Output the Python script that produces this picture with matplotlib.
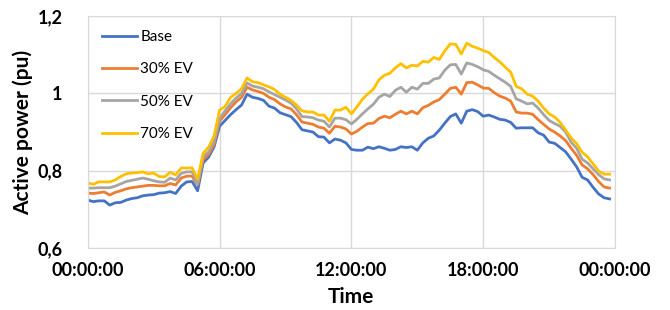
import numpy as np
import matplotlib.pyplot as plt

# 15-minute samples over one day (96 points)
base = [0.724, 0.720, 0.722, 0.722, 0.711, 0.717, 0.718, 0.724, 0.728, 0.730,
        0.735, 0.737, 0.738, 0.742, 0.743, 0.746, 0.741, 0.760, 0.771, 0.772,
        0.748, 0.820, 0.835, 0.862, 0.915, 0.930, 0.945, 0.958, 0.970, 0.998,
        0.990, 0.987, 0.982, 0.967, 0.962, 0.950, 0.945, 0.940, 0.925, 0.906,
        0.903, 0.900, 0.888, 0.887, 0.872, 0.882, 0.879, 0.872, 0.855, 0.853,
        0.853, 0.861, 0.857, 0.862, 0.858, 0.853, 0.855, 0.862, 0.860, 0.862,
        0.853, 0.872, 0.884, 0.890, 0.905, 0.923, 0.940, 0.947, 0.923, 0.954,
        0.958, 0.953, 0.941, 0.944, 0.939, 0.933, 0.931, 0.925, 0.910, 0.911,
        0.911, 0.911, 0.898, 0.892, 0.874, 0.871, 0.860, 0.849, 0.830, 0.810,
        0.783, 0.776, 0.757, 0.740, 0.730, 0.727]

ev30 = [0.742, 0.741, 0.743, 0.745, 0.737, 0.744, 0.748, 0.753, 0.756, 0.758,
        0.760, 0.762, 0.762, 0.761, 0.761, 0.767, 0.763, 0.781, 0.786, 0.786,
        0.763, 0.828, 0.842, 0.868, 0.928, 0.945, 0.963, 0.978, 0.990, 1.016,
        1.009, 1.005, 1.000, 0.990, 0.984, 0.973, 0.965, 0.960, 0.945, 0.926,
        0.923, 0.920, 0.913, 0.910, 0.897, 0.915, 0.913, 0.908, 0.895, 0.902,
        0.913, 0.922, 0.923, 0.935, 0.941, 0.937, 0.946, 0.954, 0.947, 0.954,
        0.947, 0.963, 0.969, 0.978, 0.984, 0.998, 1.013, 1.016, 0.998, 1.028,
        1.029, 1.022, 1.014, 1.013, 1.002, 0.993, 0.988, 0.980, 0.952, 0.949,
        0.949, 0.946, 0.932, 0.920, 0.908, 0.900, 0.890, 0.878, 0.858, 0.840,
        0.815, 0.805, 0.790, 0.772, 0.758, 0.755]

ev50 = [0.755, 0.755, 0.756, 0.756, 0.756, 0.760, 0.766, 0.772, 0.775, 0.778,
        0.781, 0.778, 0.774, 0.771, 0.770, 0.781, 0.776, 0.793, 0.797, 0.797,
        0.765, 0.836, 0.849, 0.875, 0.935, 0.955, 0.973, 0.988, 1.000, 1.027,
        1.019, 1.016, 1.012, 1.004, 0.997, 0.990, 0.983, 0.975, 0.960, 0.940,
        0.939, 0.937, 0.931, 0.928, 0.913, 0.936, 0.936, 0.932, 0.921, 0.933,
        0.947, 0.960, 0.972, 0.990, 0.998, 0.992, 1.008, 1.016, 1.003, 1.016,
        1.011, 1.026, 1.026, 1.037, 1.040, 1.060, 1.074, 1.075, 1.050, 1.079,
        1.075, 1.069, 1.061, 1.057, 1.047, 1.038, 1.029, 1.018, 0.986, 0.980,
        0.973, 0.975, 0.962, 0.945, 0.930, 0.922, 0.915, 0.900, 0.874, 0.858,
        0.830, 0.820, 0.805, 0.790, 0.779, 0.776]

ev70 = [0.768, 0.765, 0.771, 0.771, 0.771, 0.776, 0.785, 0.792, 0.794, 0.795,
        0.797, 0.792, 0.794, 0.785, 0.784, 0.796, 0.789, 0.807, 0.807, 0.807,
        0.778, 0.845, 0.861, 0.890, 0.957, 0.966, 0.990, 1.000, 1.012, 1.040,
        1.030, 1.028, 1.022, 1.017, 1.010, 0.998, 0.990, 0.982, 0.970, 0.955,
        0.952, 0.952, 0.944, 0.944, 0.928, 0.957, 0.957, 0.964, 0.947, 0.965,
        0.985, 0.999, 1.011, 1.035, 1.047, 1.052, 1.066, 1.077, 1.066, 1.073,
        1.071, 1.083, 1.081, 1.093, 1.088, 1.110, 1.128, 1.127, 1.102, 1.130,
        1.122, 1.117, 1.111, 1.106, 1.093, 1.082, 1.068, 1.055, 1.018, 1.012,
        0.998, 0.993, 0.980, 0.962, 0.947, 0.939, 0.925, 0.905, 0.885, 0.870,
        0.848, 0.836, 0.818, 0.799, 0.791, 0.791]

labels = ['Base', '30% EV', '50% EV', '70% EV']
colors = ['#4472C4', '#ED7D31', '#A5A5A5', '#FFC000']
xtick_labels = ['00:00:00', '06:00:00', '12:00:00', '18:00:00', '00:00:00']
ytick_labels = ['0,6', '0,8', '1', '1,2']

plt.rcParams['font.family'] = ['Lato', 'DejaVu Sans']

hours = np.arange(len(base)) * 0.25

fig = plt.figure(figsize=(6.7, 3.1), dpi=100)
ax = fig.add_axes([0.131, 0.2, 0.787, 0.748])

for series, lab, col in zip([base, ev30, ev50, ev70], labels, colors):
    ax.plot(hours, series, color=col, lw=2, label=lab)

ax.set_xlim(0, 24)
ax.set_ylim(0.6, 1.2)
ax.set_xticks([0, 6, 12, 18, 24])
ax.set_xticklabels(xtick_labels, fontsize=13, fontweight='bold')
ax.set_yticks([0.6, 0.8, 1.0, 1.2])
ax.set_yticklabels(ytick_labels, fontsize=13, fontweight='bold')
ax.tick_params(length=0)
ax.tick_params(axis='x', pad=10)
ax.tick_params(axis='y', pad=18)

ax.grid(True, color='#D9D9D9', lw=1)
ax.set_axisbelow(True)
for s in ax.spines.values():
    s.set_color('#D9D9D9')

ax.set_xlabel('Time', fontsize=15, fontweight='bold', labelpad=6)
ax.set_ylabel('Active power (pu)', fontsize=15, fontweight='bold', labelpad=3)

ax.legend(loc='upper left', frameon=False, fontsize=11, handlelength=2.3,
          labelspacing=1.2, handletextpad=0.25, borderaxespad=0.5)

fig.savefig('out.png', dpi=100)
